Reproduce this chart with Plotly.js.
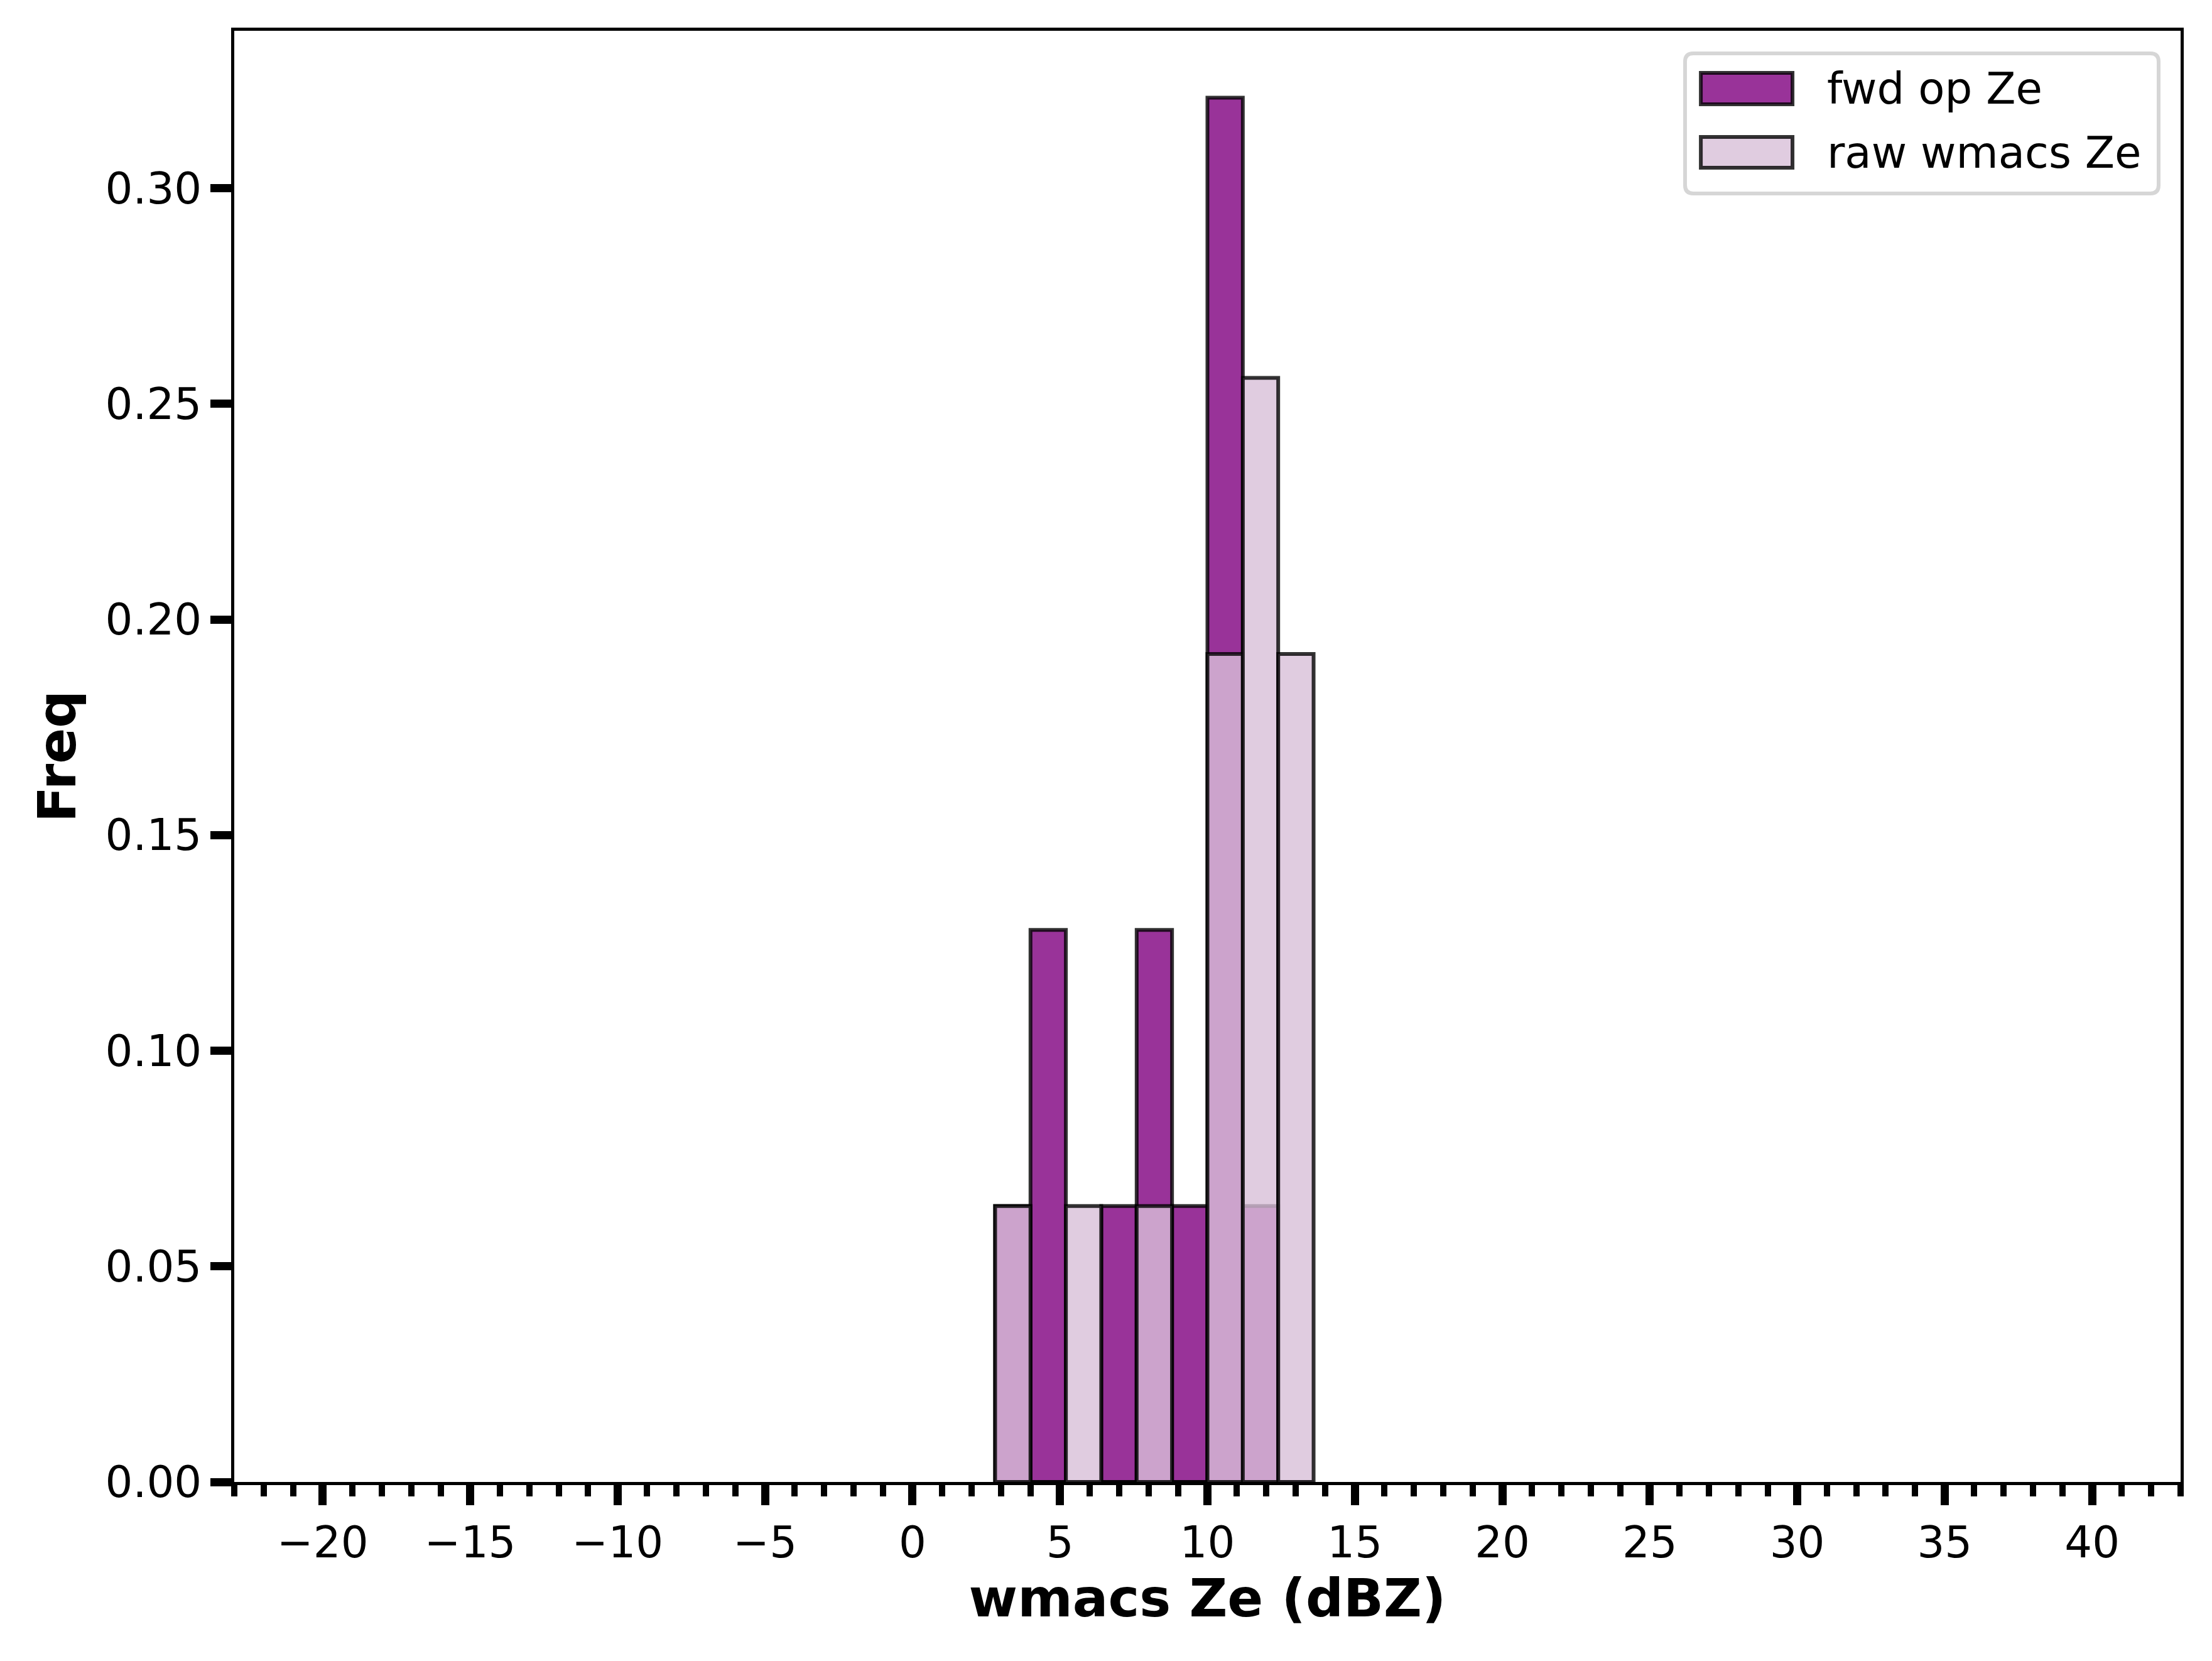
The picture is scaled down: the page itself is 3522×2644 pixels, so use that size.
<!DOCTYPE html>
<html>
<head>
<meta charset="utf-8">
<script src="https://cdn.plot.ly/plotly-3.0.1.min.js"></script>
<style>
  html, body { margin: 0; padding: 0; background: #fff; }
  #chart { width: 3522px; height: 2644px; }
</style>
</head>
<body>
<div id="chart"></div>
<script>
// histogram bins (dBZ) and normalised frequencies
const binEdges = [2.8, 4.0, 5.2, 6.4, 7.6, 8.8, 10.0, 11.2, 12.4, 13.6];
const fwdFreq = [0.064, 0.128, 0, 0.064, 0.128, 0.064, 0.321, 0.064, 0];
const rawFreq = [0.064, 0, 0.064, 0, 0.064, 0, 0.192, 0.256, 0.192];
const seriesNames = ["fwd op Ze", "raw wmacs Ze"];

const xTitle = "wmacs Ze (dBZ)";
const yTitle = "Freq";

const FONT = "DejaVu Sans, Liberation Sans, sans-serif";
const fwdColor = "rgba(128,0,128,0.8)";
const rawColor = "rgba(216,191,216,0.8)";
const edgeColor = "rgba(0,0,0,0.8)";

const centers = binEdges.slice(0, -1).map((e, i) => (e + binEdges[i + 1]) / 2);
const widths = binEdges.slice(0, -1).map((e, i) => binEdges[i + 1] - e);

const traces = [
  {
    type: "bar",
    name: seriesNames[0],
    x: centers,
    y: fwdFreq,
    width: widths,
    marker: { color: fwdColor, line: { color: edgeColor, width: 6 } },
    hoverinfo: "x+y"
  },
  {
    type: "bar",
    name: seriesNames[1],
    x: centers,
    y: rawFreq,
    width: widths,
    marker: { color: rawColor, line: { color: edgeColor, width: 6 } },
    hoverinfo: "x+y"
  }
];

// hand-made legend, matplotlib style (wide patches, rounded grey frame)
const lx0 = 0.7454, lx1 = 0.9887, ly0 = 0.8879, ly1 = 0.9844;
const rx = 0.0042, ry = 0.0056;
const framePath =
  `M ${lx0 + rx},${ly1} L ${lx1 - rx},${ly1} Q ${lx1},${ly1} ${lx1},${ly1 - ry} ` +
  `L ${lx1},${ly0 + ry} Q ${lx1},${ly0} ${lx1 - rx},${ly0} ` +
  `L ${lx0 + rx},${ly0} Q ${lx0},${ly0} ${lx0},${ly0 + ry} ` +
  `L ${lx0},${ly1 - ry} Q ${lx0},${ly1} ${lx0 + rx},${ly1} Z`;

const rows = [
  { name: seriesNames[0], color: fwdColor, y0: 0.9494, y1: 0.9710, yc: 0.9602 },
  { name: seriesNames[1], color: rawColor, y0: 0.9056, y1: 0.9268, yc: 0.9162 }
];

const shapes = [
  {
    type: "path", xref: "paper", yref: "paper", path: framePath,
    fillcolor: "rgba(255,255,255,0.8)", line: { color: "#d6d6d6", width: 6 }
  }
].concat(rows.map(r => ({
  type: "rect", xref: "paper", yref: "paper",
  x0: 0.7535, x1: 0.8006, y0: r.y0, y1: r.y1,
  fillcolor: r.color, line: { color: edgeColor, width: 6 }
})));

const annotations = rows.map(r => ({
  xref: "paper", yref: "paper", x: 0.8178, y: r.yc,
  xanchor: "left", yanchor: "middle", showarrow: false,
  text: r.name, font: { family: FONT, size: 69, color: "#000" }
}));

const layout = {
  width: 3522,
  height: 2644,
  margin: { l: 373, r: 50, t: 49, b: 285 },
  paper_bgcolor: "#fff",
  plot_bgcolor: "#fff",
  barmode: "overlay",
  bargap: 0,
  showlegend: false,
  font: { family: FONT, size: 69, color: "#000" },
  xaxis: {
    range: [-23, 43],
    tick0: 0,
    dtick: 5,
    ticks: "outside",
    ticklen: 32,
    tickwidth: 13,
    tickcolor: "#000",
    minor: { dtick: 1, ticks: "outside", ticklen: 18, tickwidth: 10, tickcolor: "#000" },
    showgrid: false,
    zeroline: false,
    showline: true,
    linewidth: 5,
    linecolor: "#000",
    mirror: true,
    tickfont: { family: FONT, size: 69, color: "#000" },
    title: { text: xTitle, font: { family: FONT, size: 84, color: "#000", weight: "bold" }, standoff: 22 }
  },
  yaxis: {
    range: [0, 0.3365],
    tick0: 0,
    dtick: 0.05,
    tickformat: ".2f",
    ticks: "outside",
    ticklen: 33,
    tickwidth: 13,
    tickcolor: "#000",
    showgrid: false,
    zeroline: false,
    showline: true,
    linewidth: 5,
    linecolor: "#000",
    mirror: true,
    tickfont: { family: FONT, size: 69, color: "#000" },
    title: { text: yTitle, font: { family: FONT, size: 84, color: "#000", weight: "bold" }, standoff: 21 }
  },
  shapes: shapes,
  annotations: annotations
};

Plotly.newPlot("chart", traces, layout, { staticPlot: true, displayModeBar: false });
</script>
</body>
</html>
